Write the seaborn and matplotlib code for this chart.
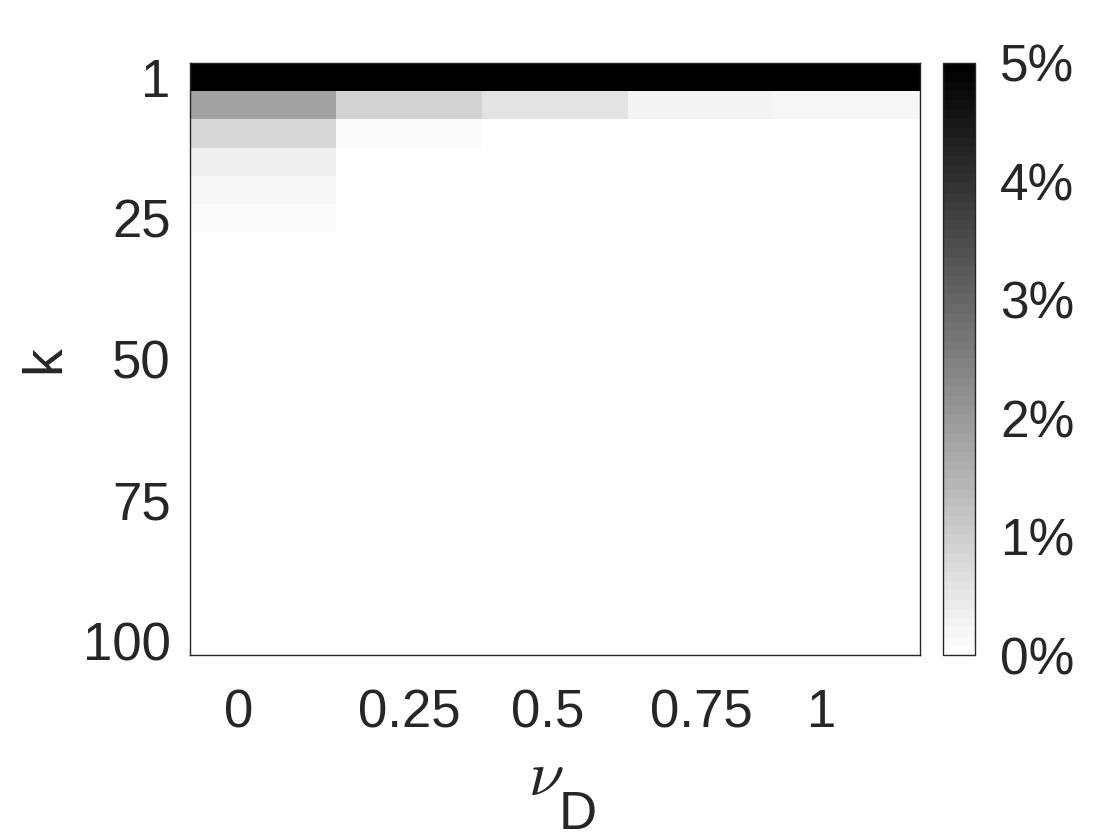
import numpy as np
import pandas as pd
import matplotlib.pyplot as plt
from matplotlib.colors import ListedColormap
import seaborn as sns

# k values (rows) and nu_D values (columns)
k_values = [1] + list(range(5, 101, 5))
nu_d = ['0', '0.25', '0.5', '0.75', '1']

# share in % for each nu_D column, one value per k row
col_000 = [7.5, 1.80, 0.80, 0.33, 0.20, 0.10] + [0.0] * 15
col_025 = [6.8, 0.86, 0.10] + [0.0] * 18
col_050 = [6.3, 0.57] + [0.0] * 19
col_075 = [6.0, 0.25] + [0.0] * 19
col_100 = [5.8, 0.20] + [0.0] * 19

y_tick_labels = ['1', '25', '50', '75', '100']
cbar_ticks = [0, 1, 2, 3, 4, 5]

df = pd.DataFrame({'0': col_000, '0.25': col_025, '0.5': col_050,
                   '0.75': col_075, '1': col_100}, index=k_values)

sns.set_theme(style='white')
plt.rcParams['font.family'] = ['Liberation Sans', 'DejaVu Sans']
plt.rcParams['mathtext.fontset'] = 'cm'

txt = '#262626'
# MATLAB style flipped gray with 64 steps, pure white at 0
cmap = ListedColormap(plt.cm.gray_r(np.linspace(0, 1, 64)))

fig = plt.figure(figsize=(11.2, 8.4), dpi=100)
ax = fig.add_axes([0.1696, 0.2202, 0.6518, 0.7048])
cax = fig.add_axes([0.842, 0.2202, 0.0286, 0.7048])

sns.heatmap(df, ax=ax, cbar_ax=cax, cmap=cmap, vmin=0, vmax=5,
            xticklabels=False, yticklabels=False)

for s in ax.spines.values():
    s.set_visible(True)
    s.set_color(txt)
    s.set_linewidth(1.0)

# y ticks at rows for k = 1, 25, 50, 75, 100
ax.set_yticks([0.5, 5.5, 10.5, 15.5, 20.5])
ax.set_yticklabels(y_tick_labels, fontsize=38, color=txt)
ax.set_xticks([0.33, 1.5, 2.45, 3.5, 4.33])
ax.set_xticklabels(nu_d, fontsize=38, color=txt)
ax.tick_params(axis='x', length=0, pad=24)
ax.tick_params(axis='y', length=0, pad=14)
for lab in ax.get_yticklabels():
    lab.set_rotation(0)

ax.set_ylabel('k', fontsize=40, color=txt, labelpad=8)
ax.set_xlabel('')
ax.text(0.487, -0.207, r'$\nu$', transform=ax.transAxes, fontsize=46,
        color=txt, ha='center', va='center')
ax.text(0.531, -0.27, 'D', transform=ax.transAxes, fontsize=38,
        color=txt, ha='center', va='center')

cbar = ax.collections[0].colorbar
cbar.set_ticks(cbar_ticks)
cbar.set_ticklabels([f'{t}%' for t in cbar_ticks])
cbar.ax.tick_params(labelsize=37, colors=txt, direction='in', length=5,
                    width=0.8, pad=18)
cbar.outline.set_visible(True)
cbar.outline.set_edgecolor(txt)
cbar.outline.set_linewidth(1.0)

fig.savefig('out.png', dpi=100)
